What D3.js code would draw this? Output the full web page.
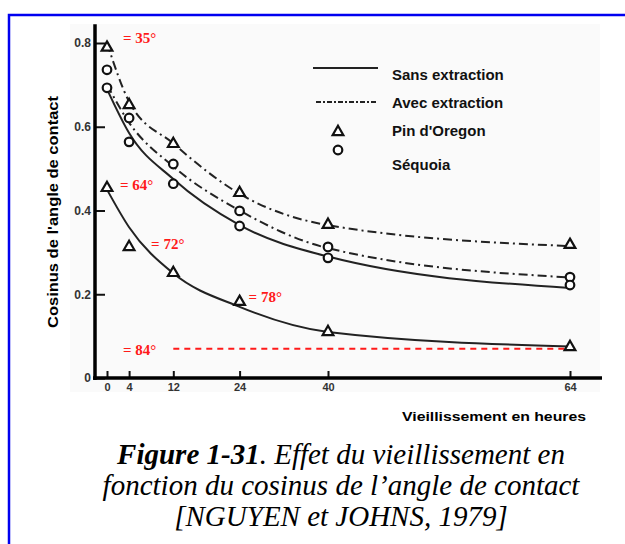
<!DOCTYPE html>
<html>
<head>
<meta charset="utf-8">
<script src="https://cdn.jsdelivr.net/npm/d3@7"></script>
<style>
  body { margin: 0; background: #fff; }
</style>
</head>
<body>
<svg id="container"></svg>
<script>
// heures de vieillissement
const hours = [0, 4, 12, 24, 40, 64];
const yTicks = [0, 0.2, 0.4, 0.6, 0.8];

// points mesures
const pinAvecPts = [0.789, 0.652, 0.559, 0.442, 0.366, 0.318];
const seqAvecPts = [0.736, 0.621, 0.511, 0.399, 0.313, 0.241];
const seqSansPts = [0.693, 0.564, 0.464, 0.363, 0.287, 0.222];
const pinSansPts = [0.454, 0.313, 0.251, 0.182, 0.110, 0.074];

// courbes lissees
const pinAvecFit = [0.80, 0.66, 0.56, 0.44, 0.365, 0.315];
const seqAvecFit = [0.70, 0.61, 0.505, 0.40, 0.31, 0.24];
const seqSansFit = [0.69, 0.585, 0.475, 0.365, 0.29, 0.215];
const pinSansFit = [0.45, 0.36, 0.25, 0.17, 0.11, 0.075];

// ligne rouge 84°
const redLineHours = [12, 64];
const redLineValue = 0.07;

const angles = [35, 64, 72, 78, 84];
const legendLabels = ['Sans extraction', 'Avec extraction', "Pin d'Oregon", 'Séquoia'];

const width = 625;
const height = 544;

const svg = d3.select('#container')
    .attr('width', width)
    .attr('height', height);

const x = d3.scaleLinear().domain([0, 40, 64]).range([107, 328, 570]);
const y = d3.scaleLinear().domain([0, 0.8]).range([378, 43]);

// cadre bleu
svg.append('rect')
    .attr('x', 9).attr('y', 15)
    .attr('width', 640).attr('height', 560)
    .attr('fill', 'none')
    .attr('stroke', '#0000f0')
    .attr('stroke-width', 2.5);

// fond du scan
svg.append('rect')
    .attr('x', 70).attr('y', 24)
    .attr('width', 530).attr('height', 368)
    .attr('fill', '#fafafa');

// axes
const yAxis = d3.axisLeft(y).tickValues(yTicks)
    .tickSizeInner(-10).tickSizeOuter(0).tickPadding(4)
    .tickFormat(d => d === 0 ? '0' : d3.format('.1f')(d));
const gy = svg.append('g').attr('transform', 'translate(95,0)').call(yAxis);
gy.select('.domain').remove();
gy.selectAll('.tick line').attr('stroke', '#111').attr('stroke-width', 2);
gy.selectAll('.tick text')
    .attr('font-family', 'Liberation Sans, Arial, sans-serif')
    .attr('font-size', 12).attr('font-weight', 'bold').attr('fill', '#333');

const xAxis = d3.axisBottom(x).tickValues(hours)
    .tickSizeInner(-7).tickSizeOuter(0).tickPadding(5);
const gx = svg.append('g').attr('transform', 'translate(0,378)').call(xAxis);
gx.select('.domain').remove();
gx.selectAll('.tick line').attr('stroke', '#111').attr('stroke-width', 2);
gx.selectAll('.tick text')
    .attr('font-family', 'Liberation Sans, Arial, sans-serif')
    .attr('font-size', 11).attr('font-weight', 'bold').attr('fill', '#333');

svg.append('line')
    .attr('x1', 95).attr('x2', 95)
    .attr('y1', y(0) + 2).attr('y2', y(0.845))
    .attr('stroke', '#000').attr('stroke-width', 3.5);
svg.append('line')
    .attr('x1', 93).attr('x2', 602)
    .attr('y1', y(0)).attr('y2', y(0))
    .attr('stroke', '#000').attr('stroke-width', 3.5);

// titres
svg.append('text')
    .attr('transform', 'translate(58,212) rotate(-90)')
    .attr('text-anchor', 'middle')
    .attr('font-family', 'Liberation Sans, Arial, sans-serif')
    .attr('font-size', 14).attr('font-weight', 'bold')
    .attr('textLength', 232).attr('lengthAdjust', 'spacingAndGlyphs')
    .text("Cosinus de l'angle de contact");

svg.append('text')
    .attr('x', 402).attr('y', 421)
    .attr('font-family', 'Liberation Sans, Arial, sans-serif')
    .attr('font-size', 13).attr('font-weight', 'bold')
    .attr('textLength', 184).attr('lengthAdjust', 'spacingAndGlyphs')
    .text('Vieillissement en heures');

// courbes
const line = d3.line()
    .x((d, i) => x(hours[i]))
    .y(d => y(d))
    .curve(d3.curveMonotoneX);

const dashDot = '9,4,2,4';
const curves = [
    { data: pinAvecFit, dash: dashDot },
    { data: seqAvecFit, dash: dashDot },
    { data: seqSansFit, dash: null },
    { data: pinSansFit, dash: null }
];
svg.selectAll('path.curve')
    .data(curves)
    .enter()
    .append('path')
    .attr('class', 'curve')
    .attr('d', d => line(d.data))
    .attr('fill', 'none')
    .attr('stroke', '#222')
    .attr('stroke-width', 2)
    .attr('stroke-dasharray', d => d.dash);

// ligne rouge
svg.append('line')
    .attr('x1', x(redLineHours[0])).attr('x2', x(redLineHours[1]))
    .attr('y1', y(redLineValue)).attr('y2', y(redLineValue))
    .attr('stroke', '#ff1a1a').attr('stroke-width', 2)
    .attr('stroke-dasharray', '6,5');

// marqueurs
const triangle = d3.symbol().type(d3.symbolTriangle).size(50);
function drawTriangles(vals) {
    svg.append('g').selectAll('path')
        .data(vals)
        .enter()
        .append('path')
        .attr('d', triangle)
        .attr('transform', (d, i) => 'translate(' + x(hours[i]) + ',' + y(d) + ')')
        .attr('fill', '#fff')
        .attr('stroke', '#111')
        .attr('stroke-width', 2.2);
}
function drawCircles(vals) {
    svg.append('g').selectAll('circle')
        .data(vals)
        .enter()
        .append('circle')
        .attr('cx', (d, i) => x(hours[i]))
        .attr('cy', d => y(d))
        .attr('r', 4.3)
        .attr('fill', '#fff')
        .attr('stroke', '#111')
        .attr('stroke-width', 2.2);
}
drawTriangles(pinAvecPts);
drawTriangles(pinSansPts);
drawCircles(seqAvecPts);
drawCircles(seqSansPts);

// etiquettes d'angle
const angleAnchors = [
    [x(0) + 16, y(pinAvecPts[0]) - 5],
    [x(0) + 13, y(pinSansPts[0]) + 2],
    [x(4) + 22, y(pinSansPts[1]) + 2],
    [x(24) + 9, y(pinSansPts[3]) + 0],
    [x(0) + 16, y(redLineValue) + 6]
];
svg.selectAll('text.angle')
    .data(angles)
    .enter()
    .append('text')
    .attr('class', 'angle')
    .attr('x', (d, i) => angleAnchors[i][0])
    .attr('y', (d, i) => angleAnchors[i][1])
    .attr('font-family', 'Liberation Serif, Times New Roman, serif')
    .attr('font-size', 15).attr('font-weight', 'bold')
    .attr('fill', '#ff1a1a')
    .text(d => '= ' + d + '°');

// legende
const leg = svg.append('g');
leg.append('line')
    .attr('x1', 313).attr('x2', 378).attr('y1', 68).attr('y2', 68)
    .attr('stroke', '#222').attr('stroke-width', 2);
leg.append('line')
    .attr('x1', 316).attr('x2', 378).attr('y1', 102).attr('y2', 102)
    .attr('stroke', '#222').attr('stroke-width', 2)
    .attr('stroke-dasharray', '5,2,2,2');
leg.append('path')
    .attr('d', triangle)
    .attr('transform', 'translate(338,132)')
    .attr('fill', '#fff').attr('stroke', '#111').attr('stroke-width', 2.2);
leg.append('circle')
    .attr('cx', 338).attr('cy', 150).attr('r', 4.3)
    .attr('fill', '#fff').attr('stroke', '#111').attr('stroke-width', 2.2);
leg.selectAll('text')
    .data(legendLabels)
    .enter()
    .append('text')
    .attr('x', 392)
    .attr('y', (d, i) => [80, 108, 136, 170][i])
    .attr('font-family', 'Liberation Sans, Arial, sans-serif')
    .attr('font-size', 15).attr('font-weight', 'bold')
    .attr('fill', '#111')
    .text(d => d);

// legende de figure
const cap = svg.append('g')
    .attr('font-family', 'Liberation Serif, Times New Roman, serif')
    .attr('font-size', 29).attr('font-style', 'italic')
    .attr('text-anchor', 'middle');
const l1 = cap.append('text').attr('x', 341).attr('y', 464);
l1.append('tspan').attr('font-weight', 'bold').text('Figure 1-31');
l1.append('tspan').text('. Effet du vieillissement en');
cap.append('text').attr('x', 341).attr('y', 495).text('fonction du cosinus de l\u2019angle de contact');
cap.append('text').attr('x', 341).attr('y', 526).text('[NGUYEN et JOHNS, 1979]');
</script>
</body>
</html>
